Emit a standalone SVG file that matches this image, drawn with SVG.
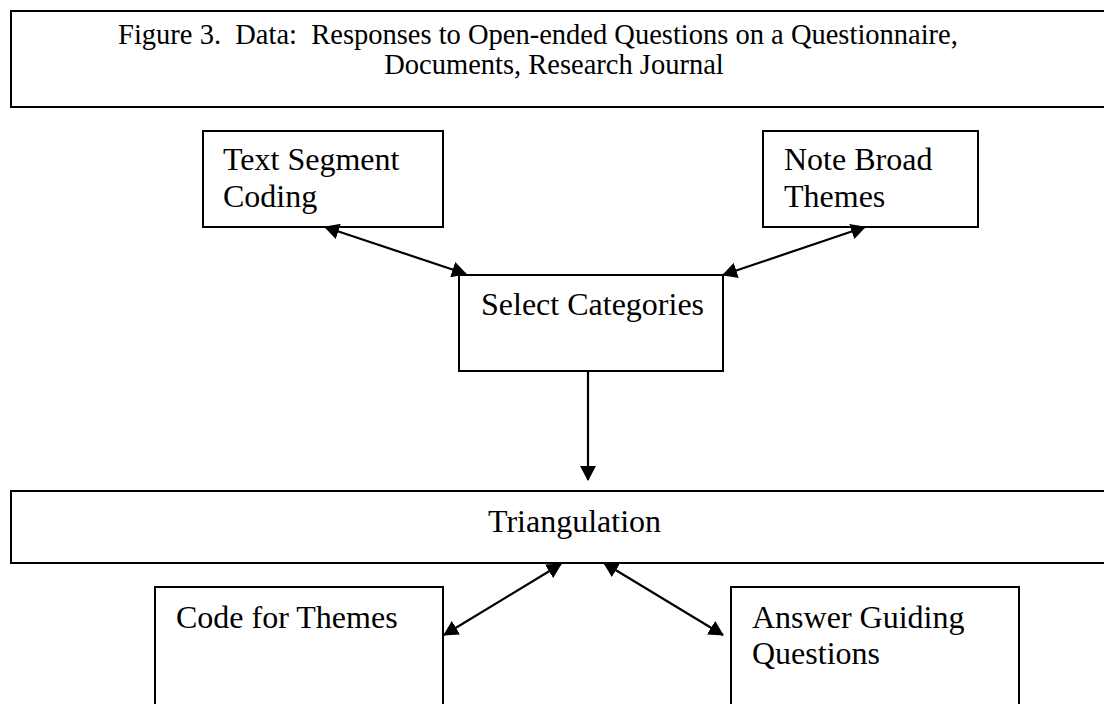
<svg xmlns="http://www.w3.org/2000/svg" width="1104" height="704" viewBox="0 0 1104 704">
  <style>
    .box { fill: #ffffff; stroke: #000000; stroke-width: 2; }
    .lbl { font-family: "Liberation Serif", "Times New Roman", serif; font-size: 32px; fill: #000000; }
    .ttl { font-family: "Liberation Serif", "Times New Roman", serif; font-size: 28.5px; fill: #000000; text-anchor: middle; white-space: pre; }
    .edge { fill: none; stroke: #000000; stroke-width: 2.2; }
  </style>
  <defs>
    <marker id="head" viewBox="0 0 15 16" refX="14" refY="8" markerWidth="15" markerHeight="16" markerUnits="userSpaceOnUse" orient="auto-start-reverse">
      <path d="M0,0 L15,8 L0,16 Z" fill="#000000"/>
    </marker>
  </defs>
  <rect width="1104" height="704" fill="#ffffff"/>

  <!-- Title banner -->
  <g id="title">
    <rect class="box" x="11" y="11" width="1110" height="96"/>
    <text class="ttl" x="538" y="44" xml:space="preserve">Figure 3.  Data:  Responses to Open-ended Questions on a Questionnaire,</text>
    <text class="ttl" x="554" y="74">Documents, Research Journal</text>
  </g>

  <g id="text-segment-coding">
    <rect class="box" x="203" y="131" width="240" height="96"/>
    <text class="lbl" x="223" y="170">Text Segment</text>
    <text class="lbl" x="223" y="207">Coding</text>
  </g>

  <g id="note-broad-themes">
    <rect class="box" x="763" y="131" width="215" height="96"/>
    <text class="lbl" x="784" y="170">Note Broad</text>
    <text class="lbl" x="784" y="207">Themes</text>
  </g>

  <g id="select-categories">
    <rect class="box" x="459" y="275" width="264" height="96"/>
    <text class="lbl" x="481" y="315">Select Categories</text>
  </g>

  <g id="triangulation">
    <rect class="box" x="11" y="491" width="1110" height="72"/>
    <text class="lbl" x="488" y="532">Triangulation</text>
  </g>

  <g id="code-for-themes">
    <rect class="box" x="155" y="587" width="288" height="140"/>
    <text class="lbl" x="176" y="628">Code for Themes</text>
  </g>

  <g id="answer-guiding-questions">
    <rect class="box" x="731" y="587" width="288" height="140"/>
    <text class="lbl" x="752" y="628">Answer Guiding</text>
    <text class="lbl" x="752" y="664">Questions</text>
  </g>

  <!-- Connectors -->
  <g id="connectors">
    <path class="edge" d="M325,227 L466,274" marker-start="url(#head)" marker-end="url(#head)"/>
    <path class="edge" d="M865,227 L723,275" marker-start="url(#head)" marker-end="url(#head)"/>
    <path class="edge" d="M588,371 L588,480" marker-end="url(#head)"/>
    <path class="edge" d="M444,635 L561,564" marker-start="url(#head)" marker-end="url(#head)"/>
    <path class="edge" d="M723,635 L604,563" marker-start="url(#head)" marker-end="url(#head)"/>
  </g>
</svg>
